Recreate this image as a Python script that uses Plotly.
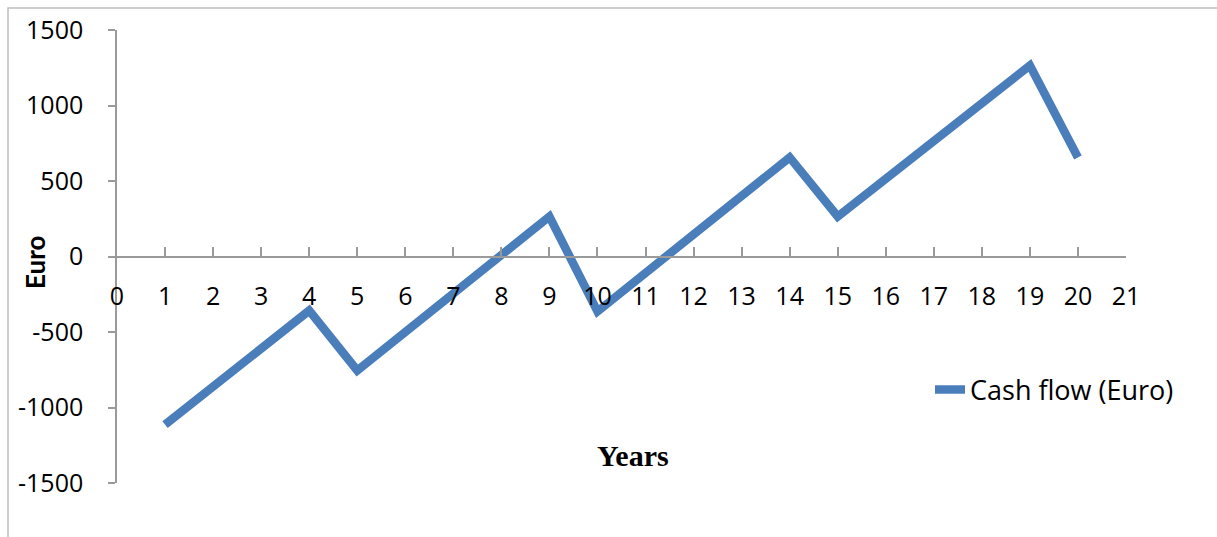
import plotly.graph_objects as go

years = list(range(1, 21))
cash_flow = [-1113, -861, -609, -358, -755, -500, -245, 10, 265, -364,
             -109, 146, 401, 656, 265, 515, 765, 1015, 1265, 656]

y_ticks = [-1500, -1000, -500, 0, 500, 1000, 1500]
y_tick_text = ["-1500", "-1000", "-500", "0", "500", "1000", "1500"]
x_ticks = list(range(0, 22))

W, H = 1217, 537
L, R, T, B = 117, 91, 30, 54
pw, ph = W - L - R, H - T - B

def px(x):
    return (x - L) / pw

def py(y):
    return (H - B - y) / ph

fig = go.Figure()
fig.add_trace(go.Scatter(
    x=years, y=cash_flow, mode="lines", name="Cash flow (Euro)",
    line=dict(color="#4a7ebb", width=8.5),
))

axis_color = "#9a9a9a"
tick_font = dict(family="Open Sans, Lato, sans-serif", size=25, color="#000000")
legend_font = dict(family="Open Sans, Lato, sans-serif", size=27, color="#000000")

fig.update_layout(
    width=W, height=H,
    margin=dict(l=L, r=R, t=T, b=B),
    paper_bgcolor="white", plot_bgcolor="white",
    showlegend=True,
    legend=dict(x=px(930), y=py(390), xanchor="left", yanchor="middle",
                font=legend_font, bgcolor="rgba(0,0,0,0)"),
    xaxis=dict(range=[0, 21], tickvals=x_ticks, ticktext=[str(v) for v in x_ticks],
               anchor="free", position=0.5, showline=True, linecolor=axis_color,
               linewidth=1.5, ticks="inside", ticklen=9, tickcolor=axis_color,
               tickwidth=1.5, showgrid=False, zeroline=False, tickfont=tick_font,
               ticklabelstandoff=18),
    yaxis=dict(range=[-1500, 1500], tickvals=y_ticks, ticktext=y_tick_text,
               showline=True, linecolor=axis_color, linewidth=1.5,
               ticks="outside", ticklen=7, tickcolor=axis_color, tickwidth=1.5,
               showgrid=False, zeroline=False, tickfont=tick_font,
               ticklabelstandoff=20),
    shapes=[dict(type="rect", xref="paper", yref="paper",
                 x0=px(8), x1=px(1222), y0=py(545), y1=py(8),
                 line=dict(color="#bfbfbf", width=1.5), layer="below")],
    annotations=[
        dict(text="<b>Years</b>", x=px(633), y=py(455), xref="paper", yref="paper",
             showarrow=False, xanchor="center", yanchor="middle",
             font=dict(family="Liberation Serif, serif", size=30, color="#000000")),
        dict(text="<b>Euro</b>", x=px(35), y=py(262), xref="paper", yref="paper",
             showarrow=False, xanchor="center", yanchor="middle", textangle=-90,
             font=dict(family="Lato, Open Sans, sans-serif", size=26, color="#000000")),
    ],
)

fig.write_html("out.html")
